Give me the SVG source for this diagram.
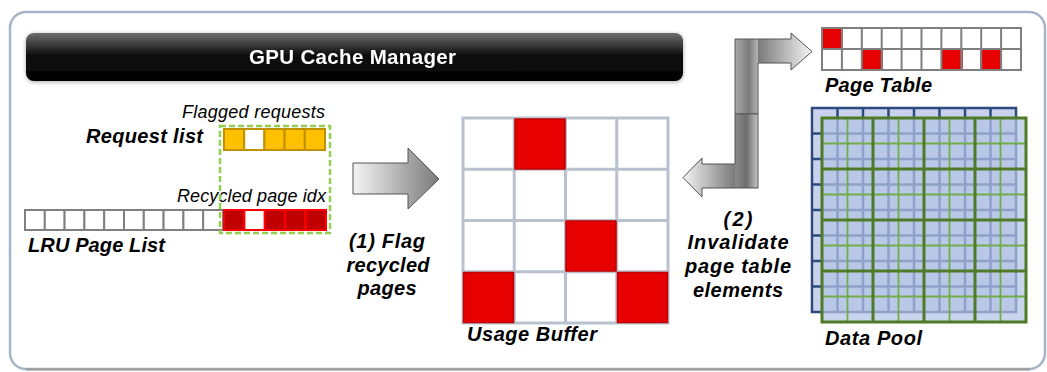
<svg xmlns="http://www.w3.org/2000/svg" width="1047" height="372" viewBox="0 0 1047 372">
<defs>
<linearGradient id="hdr" x1="0" y1="0" x2="0" y2="1">
<stop offset="0" stop-color="#6e6e6e"/><stop offset="0.45" stop-color="#111"/><stop offset="1" stop-color="#000"/>
</linearGradient>
<linearGradient id="arrR" x1="0" y1="0" x2="1" y2="0">
<stop offset="0" stop-color="#f4f4f4"/><stop offset="1" stop-color="#7a7a7a"/>
</linearGradient>
<linearGradient id="arrL" x1="0" y1="0" x2="1" y2="0">
<stop offset="0" stop-color="#7a7a7a"/><stop offset="1" stop-color="#f4f4f4"/>
</linearGradient>
<linearGradient id="stem1" x1="0" y1="0" x2="1" y2="0">
<stop offset="0" stop-color="#a8a8a8"/><stop offset="0.6" stop-color="#7c7c7c"/><stop offset="1" stop-color="#b4b4b4"/>
</linearGradient>
<linearGradient id="stem2" x1="0" y1="0" x2="1" y2="0">
<stop offset="0" stop-color="#8a8a8a"/><stop offset="0.5" stop-color="#6e6e6e"/><stop offset="1" stop-color="#c4c4c4"/>
</linearGradient>
<filter id="sh" x="-5%" y="-30%" width="110%" height="160%">
<feGaussianBlur in="SourceAlpha" stdDeviation="2"/><feOffset dx="0" dy="1"/>
<feComponentTransfer><feFuncA type="linear" slope="0.35"/></feComponentTransfer>
<feMerge><feMergeNode/><feMergeNode in="SourceGraphic"/></feMerge>
</filter>
</defs>
<style>
text{font-family:"Liberation Sans",Arial,sans-serif;fill:#000}
.bi{font-weight:bold;font-style:italic;font-size:20px}
.it{font-style:italic;font-size:18px}
.hd{font-weight:bold;font-size:20.5px;fill:#fff}
.gcell{fill:#fff;stroke:#808080;stroke-width:2}
.ocell{fill:#FFC000;stroke:#BF9000;stroke-width:2}
.rcell{fill:#C00000;stroke:#FF0000;stroke-width:2}
.ub{fill:none;stroke:#b9c1cf;stroke-width:3}
.red{fill:#E60000;stroke:#C00000;stroke-width:1.5}
.pt{fill:none;stroke:#7f7f7f;stroke-width:2}
.arrow{fill:none;stroke:#555;stroke-width:1}
</style>
<rect x="0" y="0" width="1047" height="372" fill="#fff"/>
<rect x="10" y="12" width="1035" height="357" rx="16" fill="#fff" stroke="#a7b3c7" stroke-width="2.5"/>
<path d="M26,369.5H1030" stroke="#9a9a9a" stroke-width="2" fill="none"/>

<g id="header" filter="url(#sh)">
<rect x="26" y="33" width="657" height="48" rx="8" fill="url(#hdr)"/>
<text class="hd" x="249" y="64" textLength="207" lengthAdjust="spacing">GPU Cache Manager</text>
</g>

<g id="request-list">
<text class="it" x="182" y="118" textLength="143" lengthAdjust="spacing">Flagged requests</text>
<text class="bi" x="86" y="143" textLength="117" lengthAdjust="spacing">Request list</text>
<rect class="ocell" x="224" y="129" width="20.2" height="21"/>
<rect class="ocell" x="244.2" y="129" width="20.2" height="21" style="fill:#fff"/>
<rect class="ocell" x="264.4" y="129" width="20.2" height="21"/>
<rect class="ocell" x="284.6" y="129" width="20.2" height="21"/>
<rect class="ocell" x="304.8" y="129" width="20.2" height="21"/>
</g>

<g id="lru-page-list">
<text class="it" x="177" y="202" textLength="149" lengthAdjust="spacing">Recycled page idx</text>
<rect class="gcell" x="25" y="210" width="19.8" height="20"/>
<rect class="gcell" x="44.8" y="210" width="19.8" height="20"/>
<rect class="gcell" x="64.6" y="210" width="19.8" height="20"/>
<rect class="gcell" x="84.4" y="210" width="19.8" height="20"/>
<rect class="gcell" x="104.2" y="210" width="19.8" height="20"/>
<rect class="gcell" x="124" y="210" width="19.8" height="20"/>
<rect class="gcell" x="143.8" y="210" width="19.8" height="20"/>
<rect class="gcell" x="163.6" y="210" width="19.8" height="20"/>
<rect class="gcell" x="183.4" y="210" width="19.8" height="20"/>
<rect class="gcell" x="203.2" y="210" width="19.8" height="20"/>
<rect class="rcell" x="224" y="210" width="20.4" height="20"/>
<rect class="rcell" x="244.4" y="210" width="20.4" height="20" style="fill:#fff"/>
<rect class="rcell" x="264.8" y="210" width="20.4" height="20"/>
<rect class="rcell" x="285.2" y="210" width="20.4" height="20"/>
<rect class="rcell" x="305.6" y="210" width="20.4" height="20"/>
<text class="bi" x="28" y="252" textLength="137" lengthAdjust="spacing">LRU Page List</text>
</g>

<g id="flag-box">
<rect x="220" y="126" width="110" height="107" fill="none" stroke="#92D050" stroke-width="2.5" stroke-dasharray="6,3"/>
</g>

<g id="usage-buffer">
<rect x="463" y="118" width="205" height="205" fill="#fff"/>
<path class="ub" d="M463,118H668V323H463Z M514.25,118V323 M565.5,118V323 M616.75,118V323 M463,169.25H668 M463,220.5H668 M463,271.75H668"/>
<rect class="red" x="515" y="119" width="50" height="50"/>
<rect class="red" x="566" y="221" width="50" height="50"/>
<rect class="red" x="463.5" y="272.5" width="50" height="50"/>
<rect class="red" x="617.5" y="272.5" width="50" height="50"/>
<text class="bi" x="467" y="341" textLength="130" lengthAdjust="spacing">Usage Buffer</text>
</g>

<g id="page-table">
<rect x="822" y="28" width="199" height="42" fill="#fff"/>
<rect class="red" x="822" y="28" width="20" height="21"/>
<rect class="red" x="862" y="49" width="20" height="21"/>
<rect class="red" x="942" y="49" width="20" height="21"/>
<rect class="red" x="981" y="49" width="20" height="21"/>
<path class="pt" d="M822,28H1021V70H822Z M822,49H1021 M841.9,28V70 M861.8,28V70 M881.7,28V70 M901.6,28V70 M921.5,28V70 M941.4,28V70 M961.3,28V70 M981.2,28V70 M1001.1,28V70"/>
<text class="bi" x="825" y="92" textLength="107" lengthAdjust="spacing">Page Table</text>
</g>

<g id="data-pool">
<rect x="812" y="108" width="204" height="204" fill="#c8d2ec"/>
<path fill="none" stroke="#2F4A7D" stroke-width="2.5" d="M812,108H1016V312H812Z M837.5,108V312 M863,108V312 M888.5,108V312 M914,108V312 M939.5,108V312 M965,108V312 M990.5,108V312 M812,133.5H1016 M812,159H1016 M812,184.5H1016 M812,210H1016 M812,235.5H1016 M812,261H1016 M812,286.5H1016"/>
<rect x="822" y="118" width="204" height="204" fill="#b4c3e6" fill-opacity="0.72"/>
<path fill="none" stroke="#70AD47" stroke-width="1.8" d="M847.5,118V322 M898.5,118V322 M949.5,118V322 M1000.5,118V322 M822,143.5H1026 M822,194.5H1026 M822,245.5H1026 M822,296.5H1026"/>
<path fill="none" stroke="#4F7A28" stroke-width="3" d="M822,118H1026V322H822Z M873,118V322 M924,118V322 M975,118V322 M822,169H1026 M822,220H1026 M822,271H1026"/>
<text class="bi" x="825" y="345" textLength="97" lengthAdjust="spacing">Data Pool</text>
</g>

<g id="connectors">
<g id="arrow-flag">
<path d="M353,163H408V148L439,179L408,209V194H353Z" fill="url(#arrR)" stroke="#555" stroke-width="1"/>
</g>
<g id="arrow-to-page-table">
<rect x="735" y="39" width="23" height="75" fill="url(#stem1)"/>
<path d="M758,39H791V33L812,51.5L791,70V63H758Z" fill="url(#arrL)"/>
<path class="arrow" d="M735,114V39H791V33L812,51.5L791,70V63H758V114Z"/>
</g>
<g id="arrow-to-usage-buffer">
<rect x="735" y="114" width="23" height="74" fill="url(#stem2)"/>
<path d="M735,164H702V158L683,177.5L702,197V188H735Z" fill="url(#arrR)"/>
<path class="arrow" d="M735,114H758V188H702V197L683,177.5L702,158V164H735Z"/>
</g>
</g>

<g id="label-flag">
<text class="bi" x="387" y="248" text-anchor="middle" textLength="76" lengthAdjust="spacing">(1) Flag</text>
<text class="bi" x="388" y="272" text-anchor="middle" textLength="83" lengthAdjust="spacing">recycled</text>
<text class="bi" x="387" y="295" text-anchor="middle" textLength="59" lengthAdjust="spacing">pages</text>
</g>
<g id="label-invalidate">
<text class="bi" x="738" y="226" text-anchor="middle" textLength="29" lengthAdjust="spacing">(2)</text>
<text class="bi" x="738" y="249" text-anchor="middle" textLength="101" lengthAdjust="spacing">Invalidate</text>
<text class="bi" x="738" y="273" text-anchor="middle" textLength="106" lengthAdjust="spacing">page table</text>
<text class="bi" x="738" y="297" text-anchor="middle" textLength="90" lengthAdjust="spacing">elements</text>
</g>
</svg>
